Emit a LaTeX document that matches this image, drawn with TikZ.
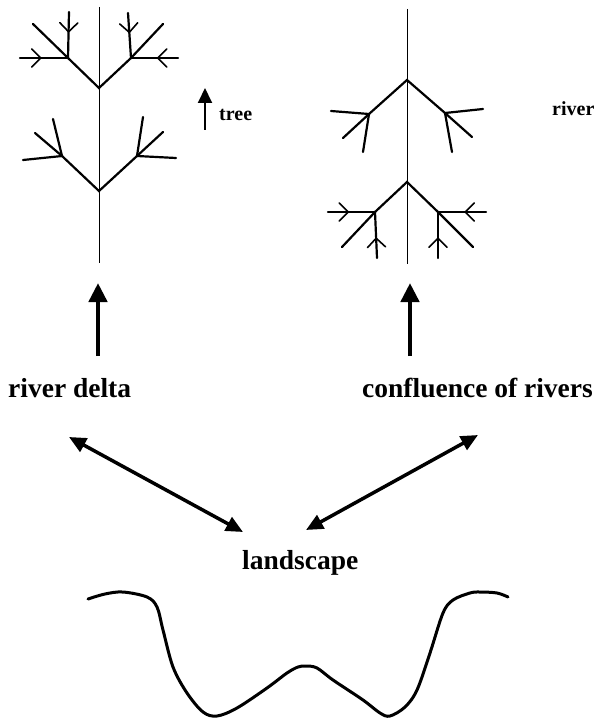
\documentclass[tikz,border=0pt]{standalone}
\usepackage{fontspec}
\setmainfont{Liberation Serif}
\usetikzlibrary{arrows.meta,decorations.markings}

\begin{document}
\begin{tikzpicture}[x=1pt,y=-1pt,
  trunk/.style={line width=1pt},
  branch/.style={line width=2.2pt,line cap=round},
  inflow/.style={branch,postaction={decorate},
    decoration={markings,mark=at position 0.57 with
      {\draw[line width=1.6pt,line cap=round] (9pt,-9pt) -- (0,0) -- (9pt,9pt);}}},
  word/.style={inner sep=0pt,anchor=base west,font=\fontsize{27.5}{30}\selectfont\bfseries},
  smallword/.style={inner sep=0pt,anchor=base west,font=\fontsize{20}{22}\selectfont\bfseries},
  bigarrow/.style={line width=4.5pt,-{Triangle[length=19pt,width=18pt]}},
  linkarrow/.style={line width=3.5pt,{Triangle[length=17pt,width=15pt]}-{Triangle[length=17pt,width=15pt]}}]
  \useasboundingbox (0,0) rectangle (594,722);

  % tree
  \coordinate (ltop) at (99,7);
  \coordinate (lfoot) at (99,263);
  \coordinate (lfa) at (99,88);
  \coordinate (lfb) at (99,191);
  \coordinate (la1) at (68,58);
  \coordinate (la2) at (131,58);
  \coordinate (lb1) at (62,156);
  \coordinate (lb2) at (137,156);
  \draw[trunk] (ltop) -- (lfoot);
  \draw[branch] (la1) -- (lfa) -- (la2);
  \draw[branch] (lb1) -- (lfb) -- (lb2);
  \draw[inflow] (la1) -- +(-48,0);
  \draw[branch] (la1) -- +(-35,-34);
  \draw[inflow] (la1) -- +(1,-46);
  \draw[inflow] (la2) -- +(47,0);
  \draw[branch] (la2) -- +(32,-34);
  \draw[inflow] (la2) -- +(-3,-45);
  \draw[branch] (lb1) -- +(-39,4);
  \draw[branch] (lb1) -- +(-27,-23);
  \draw[branch] (lb1) -- +(-9,-37);
  \draw[branch] (lb2) -- +(39,2);
  \draw[branch] (lb2) -- +(26,-24);
  \draw[branch] (lb2) -- +(6,-39);

  % river
  \coordinate (rtop) at (407,9);
  \coordinate (rfoot) at (407,264);
  \coordinate (rfc) at (407,80);
  \coordinate (rfd) at (407,182);
  \coordinate (rc1) at (369,114);
  \coordinate (rc2) at (445,113);
  \coordinate (rd1) at (375,212);
  \coordinate (rd2) at (438,212);
  \draw[trunk] (rtop) -- (rfoot);
  \draw[branch] (rc1) -- (rfc) -- (rc2);
  \draw[branch] (rd1) -- (rfd) -- (rd2);
  \draw[branch] (rc1) -- +(-38,-3);
  \draw[branch] (rc1) -- +(-26,24);
  \draw[branch] (rc1) -- +(-6,38);
  \draw[branch] (rc2) -- +(38,-4);
  \draw[branch] (rc2) -- +(27,24);
  \draw[branch] (rc2) -- +(7,39);
  \draw[inflow] (rd1) -- +(-47,0);
  \draw[branch] (rd1) -- +(-33,35);
  \draw[inflow] (rd1) -- +(2,46);
  \draw[inflow] (rd2) -- +(48,0);
  \draw[branch] (rd2) -- +(35,35);
  \draw[inflow] (rd2) -- +(0,46);

  % labels
  \node[smallword] (tree) at (219,121) {tree};
  \node[smallword] (river) at (552,116) {river};
  \node[word] (delta) at (8,397) {river delta};
  \node[word] (confluence) at (362,397) {confluence of rivers};
  \node[word] (landscape) at (242,569) {landscape};

  \coordinate (treelow) at (205,130);
  \coordinate (treehigh) at (205,88);
  \draw[line width=2pt,-{Triangle[length=15pt,width=14pt]}] (treelow) -- (treehigh);

  \coordinate (deltaup) at (98,356);
  \coordinate (deltatip) at (98,283);
  \coordinate (confup) at (410,356);
  \coordinate (conftip) at (410,283);
  \draw[bigarrow] (deltaup) -- (deltatip);
  \draw[bigarrow] (confup) -- (conftip);

  \coordinate (deltalink) at (69,437);
  \coordinate (landleft) at (243,532);
  \coordinate (conflink) at (478,435);
  \coordinate (landright) at (306,530);
  \draw[linkarrow] (deltalink) -- (landleft);
  \draw[linkarrow] (conflink) -- (landright);

  % landscape profile
  \draw[line width=3pt,line cap=round] plot[smooth,tension=0.55] coordinates {
    (88,599) (105,594) (123,592) (147,597) (157,607) (163,630) (173,667)
    (187,693) (203,712) (217,716) (237,708) (267,688) (287,673) (298,667)
    (306,666) (317,668) (333,680) (363,700) (380,713) (390,716) (405,707) (417,690)
    (430,653) (443,613) (453,600) (470,593) (480,592) (497,593) (508,597)};
\end{tikzpicture}
\end{document}
